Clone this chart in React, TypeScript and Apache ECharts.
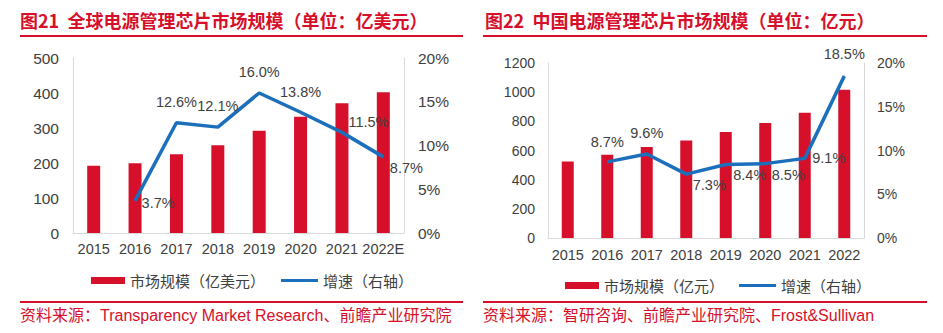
import React, { useEffect, useRef } from "react";
import * as echarts from "echarts";

const globalYears = ["2015", "2016", "2017", "2018", "2019", "2020", "2021", "2022E"];
const globalMarket = [192, 199, 225, 251, 292, 332, 371, 402];
const globalGrowth = [null, 3.7, 12.6, 12.1, 16.0, 13.8, 11.5, 8.7];

const chinaYears = ["2015", "2016", "2017", "2018", "2019", "2020", "2021", "2022"];
const chinaMarket = [525, 571, 624, 669, 727, 788, 859, 1017];
const chinaGrowth = [null, 8.7, 9.6, 7.3, 8.4, 8.5, 9.1, 18.5];

const leftTicks = [0, 100, 200, 300, 400, 500];
const rightTicksCn = [0, 200, 400, 600, 800, 1000, 1200];

const RED = "#d6102a";
const BLUE = "#1c6fbb";
const TXT = "#404040";
const AXIS = "#d9d9d9";
const FONT = "'Liberation Sans', Arial, 'Noto Sans CJK SC', sans-serif";
const CJK = "'Noto Sans CJK SC', 'Liberation Sans', sans-serif";
const MIX = "'Liberation Sans', 'Noto Sans CJK SC', sans-serif";

type LP = { position: string; distance: number; offset: [number, number] } | null;
const globalLabelPlacement: LP[] = [
  null,
  { position: "right", distance: 6, offset: [0, 2] },
  { position: "top", distance: 13, offset: [0, 0] },
  { position: "top", distance: 13, offset: [0, 0] },
  { position: "top", distance: 13, offset: [0, 0] },
  { position: "top", distance: 13, offset: [0, 0] },
  { position: "right", distance: 6, offset: [0, -10] },
  { position: "right", distance: 6, offset: [0, 11] },
];
const chinaLabelPlacement: LP[] = [
  null,
  { position: "top", distance: 12, offset: [0, 0] },
  { position: "top", distance: 13, offset: [0, 0] },
  { position: "right", distance: 6, offset: [0, 11] },
  { position: "right", distance: 7, offset: [0, 10] },
  { position: "right", distance: 6, offset: [0, 11] },
  { position: "right", distance: 7, offset: [0, 0] },
  { position: "top", distance: 14, offset: [0, 0] },
];

function lineData(vals: (number | null)[], places: LP[]) {
  return vals.map((v, i) => {
    const p = places[i];
    if (v === null) return { value: null };
    return {
      value: v / 100,
      label: p
        ? { show: true, position: p.position, distance: p.distance, offset: p.offset }
        : { show: false },
    };
  });
}

const pctFmt = (v: number) => (v * 100).toFixed(1) + "%";

export default function App() {
  const ref = useRef<HTMLDivElement>(null);
  useEffect(() => {
    if (!ref.current) return;
    const chart = echarts.init(ref.current, null, { renderer: "svg" });
    const lab = (fs: number) => ({ color: TXT, fontSize: fs, fontFamily: FONT });
    const xAxisBase = {
      type: "category",
      axisLine: { show: true, lineStyle: { color: AXIS, width: 1 } },
      axisTick: { show: false },
      splitLine: { show: false },
    };
    const yBase = {
      type: "value",
      axisLine: { show: true, lineStyle: { color: AXIS, width: 1 } },
      axisTick: { show: false },
      splitLine: { show: false },
    };
    const legendText = { color: TXT, fontSize: 15, fontFamily: CJK };
    const plain = (v: number) => String(v);
    const pctAxis = (v: number) => Math.round(v * 100) + "%";
    const lineSeriesBase = {
      type: "line",
      symbol: "circle",
      symbolSize: 1,
      showSymbol: true,
      lineStyle: { color: BLUE, width: 3.5 },
      itemStyle: { color: BLUE },
      connectNulls: false,
    };
    const option: any = {
      animation: false,
      backgroundColor: "#ffffff",
      grid: [
        { left: 73, top: 58, width: 331, height: 175 },
        { left: 548, top: 63, width: 316, height: 175 },
      ],
      xAxis: [
        { ...xAxisBase, gridIndex: 0, data: globalYears, axisLabel: { ...lab(14.5), margin: 9, interval: 0 } },
        { ...xAxisBase, gridIndex: 1, data: chinaYears, axisLabel: { ...lab(14.5), margin: 10, interval: 0 } },
      ],
      yAxis: [
        { ...yBase, gridIndex: 0, min: leftTicks[0], max: leftTicks[leftTicks.length - 1], interval: 100, axisLabel: { ...lab(15.5), margin: 14, formatter: plain } },
        { ...yBase, gridIndex: 0, position: "right", min: 0, max: 0.2, interval: 0.05, axisLabel: { ...lab(15.5), margin: 14, formatter: pctAxis } },
        { ...yBase, gridIndex: 1, min: rightTicksCn[0], max: rightTicksCn[rightTicksCn.length - 1], interval: 200, axisLabel: { ...lab(14), margin: 13, formatter: plain } },
        { ...yBase, gridIndex: 1, position: "right", min: 0, max: 0.2, interval: 0.05, axisLabel: { ...lab(14), margin: 13, formatter: pctAxis } },
      ],
      legend: [
        { data: ["市场规模（亿美元）"], left: 86, top: 268, icon: "rect", itemWidth: 34, itemHeight: 7, textStyle: legendText },
        { data: ["增速（右轴）"], left: 276, top: 268, icon: "rect", itemWidth: 37, itemHeight: 3, textStyle: legendText },
        { data: ["市场规模（亿元）"], left: 560, top: 273, icon: "rect", itemWidth: 34, itemHeight: 7, textStyle: legendText },
        { data: ["增速（右轴） "], left: 734, top: 273, icon: "rect", itemWidth: 37, itemHeight: 3, textStyle: legendText },
      ],
      series: [
        {
          name: "市场规模（亿美元）", type: "bar", xAxisIndex: 0, yAxisIndex: 0,
          data: globalMarket, barWidth: 13, itemStyle: { color: RED },
        },
        {
          ...lineSeriesBase,
          name: "增速（右轴）", xAxisIndex: 0, yAxisIndex: 1,
          data: lineData(globalGrowth, globalLabelPlacement),
          label: { show: true, ...lab(14.5), formatter: (p: any) => pctFmt(p.value) },
        },
        {
          name: "市场规模（亿元）", type: "bar", xAxisIndex: 1, yAxisIndex: 2,
          data: chinaMarket, barWidth: 12, itemStyle: { color: RED },
        },
        {
          ...lineSeriesBase,
          name: "增速（右轴） ", xAxisIndex: 1, yAxisIndex: 3,
          data: lineData(chinaGrowth, chinaLabelPlacement),
          label: { show: true, ...lab(14.5), formatter: (p: any) => pctFmt(p.value) },
        },
      ],
      graphic: [
        { type: "text", left: 20, top: 11, style: { text: "图21  全球电源管理芯片市场规模（单位：亿美元）", fill: RED, font: `bold 18px ${CJK}` } },
        { type: "rect", shape: { x: 20, y: 35, width: 443, height: 2 }, style: { fill: RED } },
        { type: "rect", shape: { x: 20, y: 301, width: 443, height: 2 }, style: { fill: RED } },
        { type: "text", left: 20, top: 307, style: { text: "资料来源：Transparency Market Research、前瞻产业研究院", fill: RED, font: `16px ${MIX}` } },
        { type: "text", left: 485, top: 11, style: { text: "图22  中国电源管理芯片市场规模（单位：亿元）", fill: RED, font: `bold 18px ${CJK}` } },
        { type: "rect", shape: { x: 483, y: 35, width: 444, height: 2 }, style: { fill: RED } },
        { type: "rect", shape: { x: 483, y: 301, width: 444, height: 2 }, style: { fill: RED } },
        { type: "text", left: 483, top: 307, style: { text: "资料来源：智研咨询、前瞻产业研究院、Frost&Sullivan", fill: RED, font: `16px ${MIX}` } },
      ],
    };
    chart.setOption(option);
    return () => chart.dispose();
  }, []);
  return (
    <div
      ref={ref}
      style={{ position: "absolute", left: 0, top: 0, width: 943, height: 333 }}
    />
  );
}
